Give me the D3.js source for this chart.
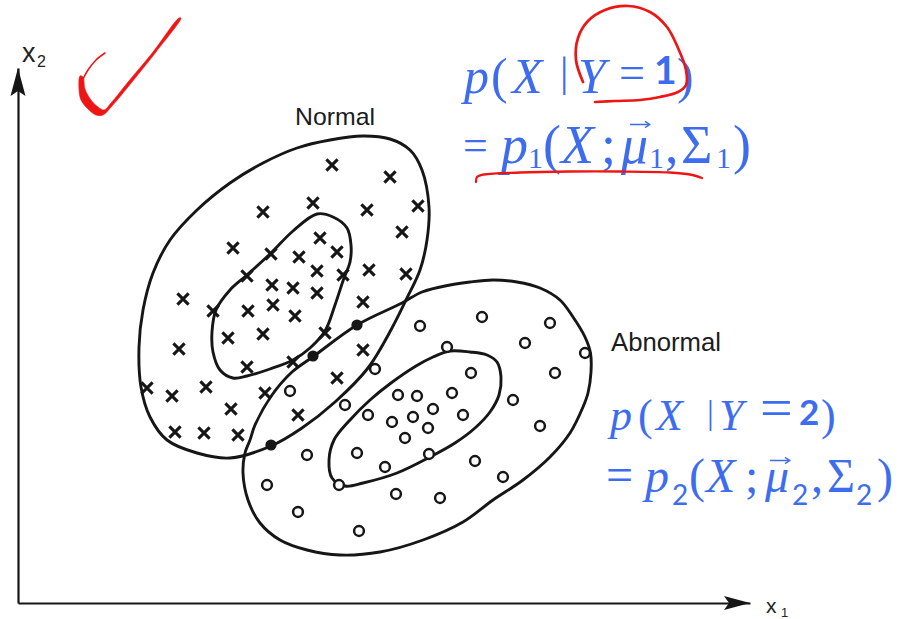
<!DOCTYPE html>
<html>
<head>
<meta charset="utf-8">
<script src="https://cdn.jsdelivr.net/npm/d3@7"></script>
<style>
  html, body { margin: 0; padding: 0; background: #ffffff; }
  svg { display: block; }
</style>
</head>
<body>
<svg id="chart" width="909" height="619"></svg>
<script>
// ---- Feature-space data (x1, x2) ----
// class 1 ("Normal") samples
const normalSamples = [
  [314,438],[372,426],[400,397],[295,400],[245,391],[349,393],[384,371],[302,365],
  [215,355],[253,349],[281,346],[319,351],[299,332],[325,328],[351,333],[388,329],
  [229,327],[254,318],[275,315],[299,310],[165,304],[195,292],[230,292],[255,298],
  [277,287],[345,301],[210,265],[245,269],[307,270],[161,254],[345,253],[229,236],
  [275,241],[319,225],[129,215],[188,216],[154,207],[247,210],[213,194],[280,188],
  [157,171],[186,170],[220,168]
];
// class 2 ("Abnormal") samples
const abnormalSamples = [
  [402,277],[464,286],[532,280],[429,256],[507,260],[567,250],[357,234],[453,230],
  [537,230],[272,212],[380,208],[399,207],[434,210],[495,203],[327,198],[415,194],
  [350,188],[374,181],[395,186],[445,188],[410,175],[522,177],[387,165],[289,148],
  [339,150],[411,149],[457,142],[367,136],[485,126],[249,118],[321,118],[378,109],
  [422,105],[280,91],[341,72]
];
// points on the class boundary
const boundaryPoints = [[339,278],[295,247],[253,158]];

// density contours (outline vertices)
const normalOuter = [
  [345,467],[372,464],[392,453],[404,433],[411,396],[409,363],[402,333],[389,305],
  [374,275],[350,235],[317,201],[284,175],[253,157],[212,145],[179,150],[149,163],
  [132,186],[123,216],[121,256],[125,293],[135,330],[152,363],[179,393],[212,420],
  [245,440],[279,455],[312,463]
];
const normalInner = [
  [299,389],[315,386],[329,375],[333,358],[332,341],[326,325],[317,298],[307,272],
  [292,255],[275,243],[252,234],[229,227],[215,225],[202,233],[195,251],[194,271],
  [198,293],[212,313],[229,328],[252,349],[275,372]
];
const abnormalOuter = [
  [404,311],[432,318],[452,321],[475,323],[499,321],[522,315],[542,303],[555,286],
  [567,266],[572.5,250],[573,231],[570,210],[565,196],[552,170],[532,146],[505,123],
  [475,103],[445,81],[405,63],[362,51],[322,48],[289,53],[262,63],[242,80],
  [230,103],[225,130],[227,150],[232,163],[237,178],[254,208],[274,231],[296,247],
  [339,278],[384,300]
];
const abnormalInner = [
  [432,252],[452,251],[469,248],[479,241],[483,226],[481,208],[472,191],[457,175],
  [437,160],[412,146],[379,130],[345,120],[327,117],[314,125],[311,143],[316,163],
  [332,183],[352,203],[373,220],[398,237],[415,246]
];

// hand annotations (same coordinate system)
const checkOutline = [
  [62,527],[61,514],[63,503],[70,494],[78,488],[85,488],[94,497],[114,521],[138,551],[163,585],
  [161,585],[135,551],[110,521],[93,500],[86,493],[80,496],[73,503],[67,514],[65,526]
];
const checkCurl = [[87,550],[78,543],[70,533],[65,524]];
const ringStroke = [
  [565,521],[558,543],[560,565],[570,582],[587,593],[610,597],[632,591],[649,576],
  [660,555],[668,533],[668,518],[660,511],[642,506],[622,503],[597,502],[577,501]
];
const underlineStroke = [
  [458,421],[459,426],[466,428.5],[502,430.5],[552,431.5],[602,431.5],[652,430.5],[672,428.5],[684,425]
];

const classNames = ["Normal", "Abnormal"];
const axisNames = [["x","2"],["x","1"]];

// ---- layout ----
const svg = d3.select("#chart");
const x = d3.scaleLinear().domain([0, 732]).range([18, 750]);
const y = d3.scaleLinear().domain([0, 535]).range([603, 68]);

const ink = "#161616";
const red = "#ee1515";
const blue = "#3d6cf0";

// axes
svg.append("g")
  .attr("transform", `translate(0,${y(0)})`)
  .call(d3.axisBottom(x).tickValues([]).tickSizeOuter(0))
  .call(g => g.select(".domain").attr("stroke", ink).attr("stroke-width", 2.2));
svg.append("g")
  .attr("transform", `translate(${x(0)},0)`)
  .call(d3.axisLeft(y).tickValues([]).tickSizeOuter(0))
  .call(g => g.select(".domain").attr("stroke", ink).attr("stroke-width", 2.2));

// arrow heads
const xTip = [x(732), y(0)], yTip = [x(0), y(535)];
svg.append("path")
  .attr("d", `M${xTip[0]},${xTip[1]}L${xTip[0]-26},${xTip[1]-7}L${xTip[0]-21},${xTip[1]}L${xTip[0]-26},${xTip[1]+7}Z`)
  .attr("fill", ink);
svg.append("path")
  .attr("d", `M${yTip[0]},${yTip[1]}L${yTip[0]-7.5},${yTip[1]+28}L${yTip[0]},${yTip[1]+23}L${yTip[0]+7.5},${yTip[1]+28}Z`)
  .attr("fill", ink);

// axis names
const axisLab = svg.append("g").attr("font-family", "Liberation Sans, Arial, sans-serif").attr("fill", "#222");
const x2Lab = axisLab.append("text");
x2Lab.append("tspan").attr("x", 22).attr("y", 62).attr("font-size", 27).text(axisNames[0][0]);
x2Lab.append("tspan").attr("x", 37).attr("y", 67).attr("font-size", 16).text(axisNames[0][1]);
const x1Lab = axisLab.append("text");
x1Lab.append("tspan").attr("x", 766).attr("y", 613).attr("font-size", 21).text(axisNames[1][0]);
x1Lab.append("tspan").attr("x", 781).attr("y", 617).attr("font-size", 13).text(axisNames[1][1]);

// contours
const contourLine = d3.line()
  .x(d => x(d[0])).y(d => y(d[1]))
  .curve(d3.curveCatmullRomClosed.alpha(0.5));
svg.append("g")
  .selectAll("path")
  .data([normalOuter, normalInner, abnormalOuter, abnormalInner])
  .join("path")
  .attr("d", contourLine)
  .attr("fill", "none")
  .attr("stroke", ink)
  .attr("stroke-width", 2.9);

// class-2 samples: open circles
svg.append("g")
  .selectAll("circle")
  .data(abnormalSamples)
  .join("circle")
  .attr("cx", d => x(d[0])).attr("cy", d => y(d[1]))
  .attr("r", 4.9)
  .attr("fill", "#fff")
  .attr("stroke", ink)
  .attr("stroke-width", 2.5);

// class-1 samples: crosses
const s = 5.6;
svg.append("g")
  .selectAll("path")
  .data(normalSamples)
  .join("path")
  .attr("d", d => {
    const cx = x(d[0]), cy = y(d[1]);
    return `M${cx-s},${cy-s}L${cx+s},${cy+s}M${cx-s},${cy+s}L${cx+s},${cy-s}`;
  })
  .attr("stroke", ink)
  .attr("stroke-width", 3.1);

// boundary points
svg.append("g")
  .selectAll("circle")
  .data(boundaryPoints)
  .join("circle")
  .attr("cx", d => x(d[0])).attr("cy", d => y(d[1]))
  .attr("r", 5.6)
  .attr("fill", ink);

// class names
svg.append("text").attr("x", 295).attr("y", 125)
  .attr("font-family", "Liberation Sans, Arial, sans-serif").attr("font-size", 24)
  .attr("textLength", 80).attr("lengthAdjust", "spacingAndGlyphs")
  .attr("fill", "#1c1c1c").text(classNames[0]);
svg.append("text").attr("x", 611).attr("y", 351)
  .attr("font-family", "Liberation Sans, Arial, sans-serif").attr("font-size", 25)
  .attr("textLength", 110).attr("lengthAdjust", "spacingAndGlyphs")
  .attr("fill", "#1c1c1c").text(classNames[1]);

// class-conditional density formulas, one text per line
// glyph: [text, left, baseline, size, kind]  kind: i = italic serif, u = upright serif, s = sans
const formulaLines = [
  [["p",464,93,50,"i"],["(",491,93,50,"u"],["X",512,93,50,"i"],["|",560,86,42,"u"],
   ["Y",578,93,50,"i"],["=",619,88,46,"u"],["1",654,84,39,"s"],[")",677,93,50,"u"]],

  [["=",463,160,44,"u"],["p",501,163,54,"i"],["1",528,168,30,"u"],["(",543,163,54,"u"],
   ["X",561,163,54,"i"],[";",601,163,54,"u"],["μ",621,163,54,"i"],
   ["1",649,168,30,"u"],[",",665,163,54,"u"],["Σ",681,163,54,"u"],["1",716,168,30,"u"],
   [")",733,163,54,"u"]],

  [["p",610,430,44,"i"],["(",638,430,44,"u"],["X",656,430,44,"i"],["|",707,424,34,"u"],
   ["Y",719,430,44,"i"],["=",760,427,58,"u"],["2",799,425,35,"s"],[")",821,430,44,"u"]],

  [["=",606,491,48,"u"],["p",645,492,48,"i"],["2",672,505,28,"s"],["(",689,492,48,"u"],
   ["X",706,492,48,"i"],[";",745,492,48,"u"],["μ",765,492,48,"i"],
   ["2",792,505,28,"s"],[",",811,492,48,"u"],["Σ",827,492,48,"u"],["2",856,505,28,"s"],
   [")",877,492,48,"u"]]
];
svg.append("g")
  .attr("fill", blue)
  .selectAll("text")
  .data(formulaLines)
  .join("text")
  .selectAll("tspan")
  .data(d => d)
  .join("tspan")
  .attr("x", d => d[1]).attr("y", d => d[2])
  .attr("font-size", d => d[3])
  .attr("font-family", d => d[4] === "s" ? "Lato, 'Open Sans', sans-serif" : "'Liberation Serif', 'DejaVu Serif', serif")
  .attr("font-style", d => d[4] === "i" ? "italic" : "normal")
  .attr("font-weight", d => (d[4] === "s" && d[3] > 30) ? 700 : 400)
  .text(d => d[0]);

// vector accents over the mean symbols: [left, right, height]
const vecAccents = [[630, 650, 124.5], [770, 790, 460.5]];
svg.append("g")
  .selectAll("path")
  .data(vecAccents)
  .join("path")
  .attr("d", d => `M${d[0]},${d[2]}H${d[1]-1}M${d[1]-5},${d[2]-3.2}L${d[1]},${d[2]}L${d[1]-5},${d[2]+3.2}`)
  .attr("fill", "none")
  .attr("stroke", blue)
  .attr("stroke-width", 1.4)
  .attr("stroke-linejoin", "round");

// red pen marks
svg.append("path")
  .datum(checkOutline)
  .attr("d", d3.line().x(d => x(d[0])).y(d => y(d[1])).curve(d3.curveCatmullRomClosed.alpha(0.5)))
  .attr("fill", red).attr("stroke", red).attr("stroke-width", 0.6).attr("stroke-linejoin", "round");
const openStroke = d3.line().x(d => x(d[0])).y(d => y(d[1])).curve(d3.curveCatmullRom.alpha(0.5));
svg.append("path").datum(checkCurl).attr("d", openStroke)
  .attr("fill", "none").attr("stroke", red).attr("stroke-width", 1.6).attr("stroke-linecap", "round");
svg.append("path").datum(ringStroke).attr("d", openStroke)
  .attr("fill", "none").attr("stroke", red).attr("stroke-width", 2.7).attr("stroke-linecap", "round");
svg.append("path").datum(underlineStroke).attr("d", openStroke)
  .attr("fill", "none").attr("stroke", red).attr("stroke-width", 2.3).attr("stroke-linecap", "round");
</script>
</body>
</html>
